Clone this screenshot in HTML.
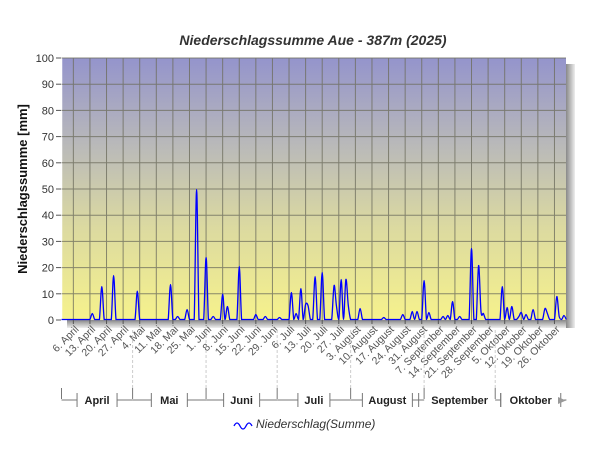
<!DOCTYPE html>
<html><head><meta charset="utf-8"><style>
html,body{margin:0;padding:0;background:#fff;}
svg{display:block;font-family:"Liberation Sans",sans-serif;}
</style></head><body>
<svg id="s" width="600" height="450" viewBox="0 0 600 450" xmlns="http://www.w3.org/2000/svg">
<defs>
<linearGradient id="bg" x1="0" y1="0" x2="0" y2="1">
<stop offset="0" stop-color="#9494cc"/>
<stop offset="0.35" stop-color="#bbbbb8"/>
<stop offset="0.65" stop-color="#dcdaa0"/>
<stop offset="1" stop-color="#f6f28c"/>
</linearGradient>
<linearGradient id="shr" x1="0" y1="0" x2="1" y2="0">
<stop offset="0" stop-color="#888"/><stop offset="1" stop-color="#eee"/>
</linearGradient>
<linearGradient id="shb" x1="0" y1="0" x2="0" y2="1">
<stop offset="0" stop-color="#888"/><stop offset="1" stop-color="#eee"/>
</linearGradient>
</defs>
<rect x="566" y="64" width="9" height="264" fill="url(#shr)"/>
<rect x="67" y="320" width="499" height="8" fill="url(#shb)"/>
<rect x="61.5" y="58" width="504.5" height="262" fill="url(#bg)"/>
<line x1="61.5" y1="58" x2="61.5" y2="320" stroke="#fff" stroke-width="1.5"/>
<g id="grid" stroke="#6e6e5e" stroke-width="1" opacity="0.8"></g>
<g id="ylab" font-size="11" fill="#333" text-anchor="end"></g>
<path id="ser" fill="none" stroke="#0000ff" stroke-width="1.3"/>
<g id="xlab" font-size="10.5" fill="#555"></g>
<g id="mon" stroke="#777" stroke-width="1" fill="none"></g>
<g id="monl" font-size="11" font-weight="bold" fill="#222" text-anchor="middle"></g>
<text x="313" y="45" text-anchor="middle" font-size="14" font-weight="bold" font-style="italic" fill="#333">Niederschlagssumme Aue - 387m (2025)</text>
<text transform="translate(27,189) rotate(-90)" text-anchor="middle" font-size="13" font-weight="bold" fill="#111">Niederschlagssumme [mm]</text>
<path d="M234,426 q3,-6 6,0 t6,0 t6,0" fill="none" stroke="#00f" stroke-width="1.3"/>
<text x="256" y="428" font-size="12" font-style="italic" fill="#333">Niederschlag(Summe)</text>
<polygon points="558,397 566,400.5 558,404" fill="#999"/>
</svg>
<script>
var NS="http://www.w3.org/2000/svg";
function el(p,t,a,txt){var e=document.createElementNS(NS,t);for(var k in a)e.setAttribute(k,a[k]);if(txt)e.textContent=txt;document.getElementById(p).appendChild(e);}
var X0=61.5,DX=2.37,Y0=320,DY=2.62;
function xd(d){return X0+d*DX;}
for(var v=0;v<=100;v+=10){var y=Y0-v*DY;
 if(v>0)el("grid","line",{x1:61.5,x2:566,y1:y,y2:y});
 el("ylab","line",{x1:56,x2:61,y1:y,y2:y,stroke:"#555"});
 el("ylab","text",{x:54,y:y+4},String(v));}
var lbl=["6. April","13. April","20. April","27. April","4. Mai","11. Mai","18. Mai","25. Mai","1. Juni","8. Juni","15. Juni","22. Juni","29. Juni","6. Juli","13. Juli","20. Juli","27. Juli","3. August","10. August","17. August","24. August","31. August","7. September","14. September","21. September","28. September","5. Oktober","12. Oktober","19. Oktober","26. Oktober"];
for(var i=0;i<lbl.length;i++){var x=xd(5+7*i);
 el("grid","line",{x1:x,x2:x,y1:58,y2:320});
 el("xlab","line",{x1:x,x2:x,y1:320,y2:324,stroke:"#555"});
 el("xlab","text",{"text-anchor":"end",transform:"translate("+(x+6)+",330) rotate(-45)"},lbl[i]);}
var mb=[0,30,61,91,122,153,183,213],mn=["April","Mai","Juni","Juli","August","September","Oktober"];
var mw=[32,28,28,24,42,74,52];
for(var i=0;i<7;i++){var a=xd(mb[i]),b=xd(mb[i+1]),c=(a+b)/2,h=mw[i]/2+4;
 el("mon","line",{x1:a,x2:a,y1:388,y2:399});
 el("mon","line",{x1:a,x2:c-h,y1:400,y2:400});
 el("mon","line",{x1:c+h,x2:b,y1:400,y2:400});
 el("mon","line",{x1:c-h,x2:c-h,y1:393,y2:407});
 el("mon","line",{x1:c+h,x2:c+h,y1:393,y2:407});
 if(i>0)el("mon","line",{x1:a,x2:a,y1:330,y2:388,"stroke-dasharray":"3,2",stroke:"#ccc"});
 el("monl","text",{x:c,y:404},mn[i]);}
el("mon","line",{x1:xd(213),x2:558,y1:400,y2:400});
var pk=[[93.3,313],[100.7,286],[114.7,275],[136.3,290.7],[169.7,284],[178.7,316],[188,309],[195.7,189],[205,257],[212,316],[221.7,293.7],[226.3,306],[238.3,266],[254.7,314],[266,316],[280.7,317],[290.3,292],[295,313],[300,288],[305,304],[309,305],[314,276],[323.3,272],[333.7,285],[336,305],[340.3,279],[345,279],[349,305],[359,308],[383,317],[402,314],[413,311],[416,311],[423.3,280],[430,312],[443,316],[447,315],[453.7,301],[460,316],[471.3,248],[478,265],[482,311],[484,313],[503.3,286],[508,307],[512,306],[519,316],[522,312],[526,314],[532,309],[544.7,308],[548,313],[555.7,296],[560,316],[563,315]];
var N=214,val=[];for(var i=0;i<N;i++)val.push(0);
pk.forEach(function(p){var d=Math.round((p[0]-X0)/DX);if(d>=0&&d<N){var v=(319-p[1])/DY;if(v>val[d])val[d]=v;}});
var pts=[];for(var i=0;i<N;i++)pts.push([xd(i),Y0-0.5-val[i]*DY]);
var d="M"+pts[0][0]+","+pts[0][1];
for(var i=0;i<N-1;i++){var p0=pts[Math.max(0,i-1)],p1=pts[i],p2=pts[i+1],p3=pts[Math.min(N-1,i+2)];
 var c1x=p1[0]+(p2[0]-p0[0])/6,c1y=Math.min(319.5,p1[1]+(p2[1]-p0[1])/6),c2x=p2[0]-(p3[0]-p1[0])/6,c2y=Math.min(319.5,p2[1]-(p3[1]-p1[1])/6);
 d+=" C"+c1x.toFixed(1)+","+c1y.toFixed(1)+" "+c2x.toFixed(1)+","+c2y.toFixed(1)+" "+p2[0].toFixed(1)+","+p2[1].toFixed(1);}
document.getElementById("ser").setAttribute("d",d);
</script>
</body></html>
